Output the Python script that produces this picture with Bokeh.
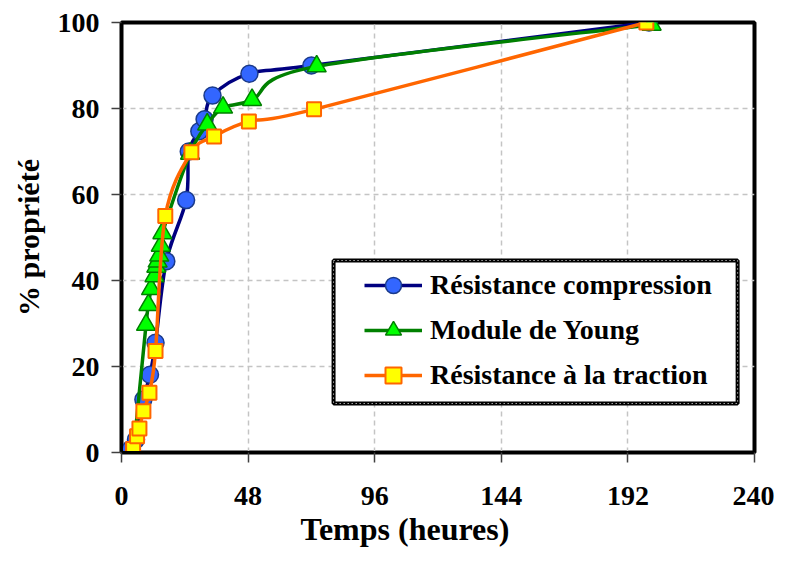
from bokeh.plotting import figure
from bokeh.models import Legend, LegendItem, BoxAnnotation, FixedTicker, Range1d, Title
from bokeh.embed import file_html
from bokeh.resources import INLINE

# ---------------- data ----------------
compression_x = [3.5, 5.5, 8.3, 10.8, 12.9, 17, 24.5, 25.5, 29.5, 31.5, 34.5, 48.5, 72, 200]
compression_y = [0.8, 3, 12.3, 18.1, 25.5, 44.5, 58.7, 70, 74.7, 77.5, 83, 88.1, 90, 100]

young_x = [4.5, 9.3, 10.2, 11.2, 12.5, 13.2, 13.7, 14.3, 14.9, 15.5, 26, 32.5, 38.5, 49.5, 74, 201]
young_y = [0, 29.7, 34.3, 38, 41, 43.2, 44.4, 45.8, 48.1, 51, 69.5, 76.3, 80.2, 82, 89.8, 99.5]

traction_x = [4.4, 5.9, 6.8, 8.3, 10.6, 12.9, 16.6, 26.5, 35.1, 48.3, 73, 199]
traction_y = [0.8, 3.8, 5.6, 9.6, 13.9, 23.6, 55, 69.8, 73.5, 77, 79.8, 100]

series_names = ["Résistance compression", "Module de Young", "Résistance à la traction"]
x_ticks = [0, 48, 96, 144, 192, 240]
y_ticks = [0, 20, 40, 60, 80, 100]

FONT = "Liberation Serif"

p = figure(width=774, height=547, output_backend="svg", toolbar_location=None,
           x_range=Range1d(0, 240), y_range=Range1d(0, 100),
           min_border_left=121, min_border_right=20, min_border_top=22, min_border_bottom=95)
p.background_fill_color = "white"
p.border_fill_color = "white"
p.outline_line_color = "black"
p.outline_line_width = 4

for ax in (p.xaxis[0], p.yaxis[0]):
    ax.axis_line_color = "black"
    ax.axis_line_width = 3
    ax.major_tick_line_color = "#404040"
    ax.major_tick_line_width = 1.5
    ax.major_tick_out = 10
    ax.major_tick_in = 0
    ax.minor_tick_line_color = None
    ax.major_label_text_font = FONT
    ax.major_label_text_font_style = "bold"
    ax.major_label_text_font_size = "28px"
    ax.major_label_text_color = "black"
    ax.axis_label_text_font = FONT
    ax.axis_label_text_font_style = "bold"
    ax.axis_label_text_font_size = "30px"
    ax.axis_label_text_color = "black"

p.xaxis.ticker = FixedTicker(ticks=x_ticks)
p.yaxis.ticker = FixedTicker(ticks=y_ticks)
p.yaxis.axis_label = "% propriété"
p.xaxis.major_label_standoff = 24
p.yaxis.major_label_standoff = 12
p.yaxis.axis_label_standoff = 10

x_title = Title(text="Temps (heures)", align="left", offset=179, standoff=2,
                text_font=FONT, text_font_style="bold", text_font_size="32px",
                text_color="black")
p.add_layout(x_title, "below")

p.grid.grid_line_color = "#c4c4c4"
p.grid.grid_line_dash = "5 4"
p.grid.grid_line_width = 1.5


def bezier_parts(xs, ys):
    n = len(xs)
    x0, y0, x1, y1, cx0, cy0, cx1, cy1 = [], [], [], [], [], [], [], []
    for i in range(n - 1):
        im = max(i - 1, 0)
        ip = min(i + 2, n - 1)
        x0.append(xs[i]); y0.append(ys[i])
        x1.append(xs[i + 1]); y1.append(ys[i + 1])
        cx0.append(xs[i] + (xs[i + 1] - xs[im]) / 6.0)
        cy0.append(ys[i] + (ys[i + 1] - ys[im]) / 6.0)
        cx1.append(xs[i + 1] - (xs[ip] - xs[i]) / 6.0)
        cy1.append(ys[i + 1] - (ys[ip] - ys[i]) / 6.0)
    return dict(x0=x0, y0=y0, x1=x1, y1=y1, cx0=cx0, cy0=cy0, cx1=cx1, cy1=cy1)


styles = [
    dict(xs=compression_x, ys=compression_y, line="#000080", marker="circle",
         fill="#3366FF", edge="#1a3a8a", size=17, lw=1.5),
    dict(xs=young_x, ys=young_y, line="#008000", marker="triangle",
         fill="#00FF00", edge="#008000", size=19, lw=1.5),
    dict(xs=traction_x, ys=traction_y, line="#FF6600", marker="square",
         fill="#FFFF00", edge="#FF6600", size=14, lw=2),
]

items = []
for name, s in zip(series_names, styles):
    b = bezier_parts(s["xs"], s["ys"])
    p.bezier(x0="x0", y0="y0", x1="x1", y1="y1", cx0="cx0", cy0="cy0", cx1="cx1", cy1="cy1",
             source=b, line_color=s["line"], line_width=3.5)
    lr = p.line(x=s["xs"][:1], y=s["ys"][:1], line_color=s["line"], line_width=3.5)
    sr = p.scatter(x=s["xs"], y=s["ys"], marker=s["marker"], size=s["size"],
                   fill_color=s["fill"], line_color=s["edge"], line_width=s["lw"])
    items.append(LegendItem(label=name, renderers=[lr, sr]))

# legend frame (black dotted double border, white inside)
box_black = BoxAnnotation(left=80.4, right=233.6, bottom=11.4, top=44.65,
                          fill_color="white", fill_alpha=1.0,
                          line_color="black", line_alpha=1.0, line_width=4)
box_white = BoxAnnotation(left=80.4, right=233.6, bottom=11.4, top=44.65,
                          fill_alpha=0.0, line_color="white", line_alpha=1.0,
                          line_width=1, line_dash="1 3")
p.add_layout(box_black)
p.add_layout(box_white)

legend = Legend(items=items, location=(243, 57), padding=0, margin=0,
                glyph_width=58, glyph_height=40, label_height=40, spacing=5,
                label_standoff=8, label_text_font=FONT, label_text_font_size="28px",
                label_text_font_style="bold", label_text_color="black",
                border_line_color=None, background_fill_alpha=0.0)
p.add_layout(legend, "center")

open("out.html", "w").write(file_html(p, INLINE))
